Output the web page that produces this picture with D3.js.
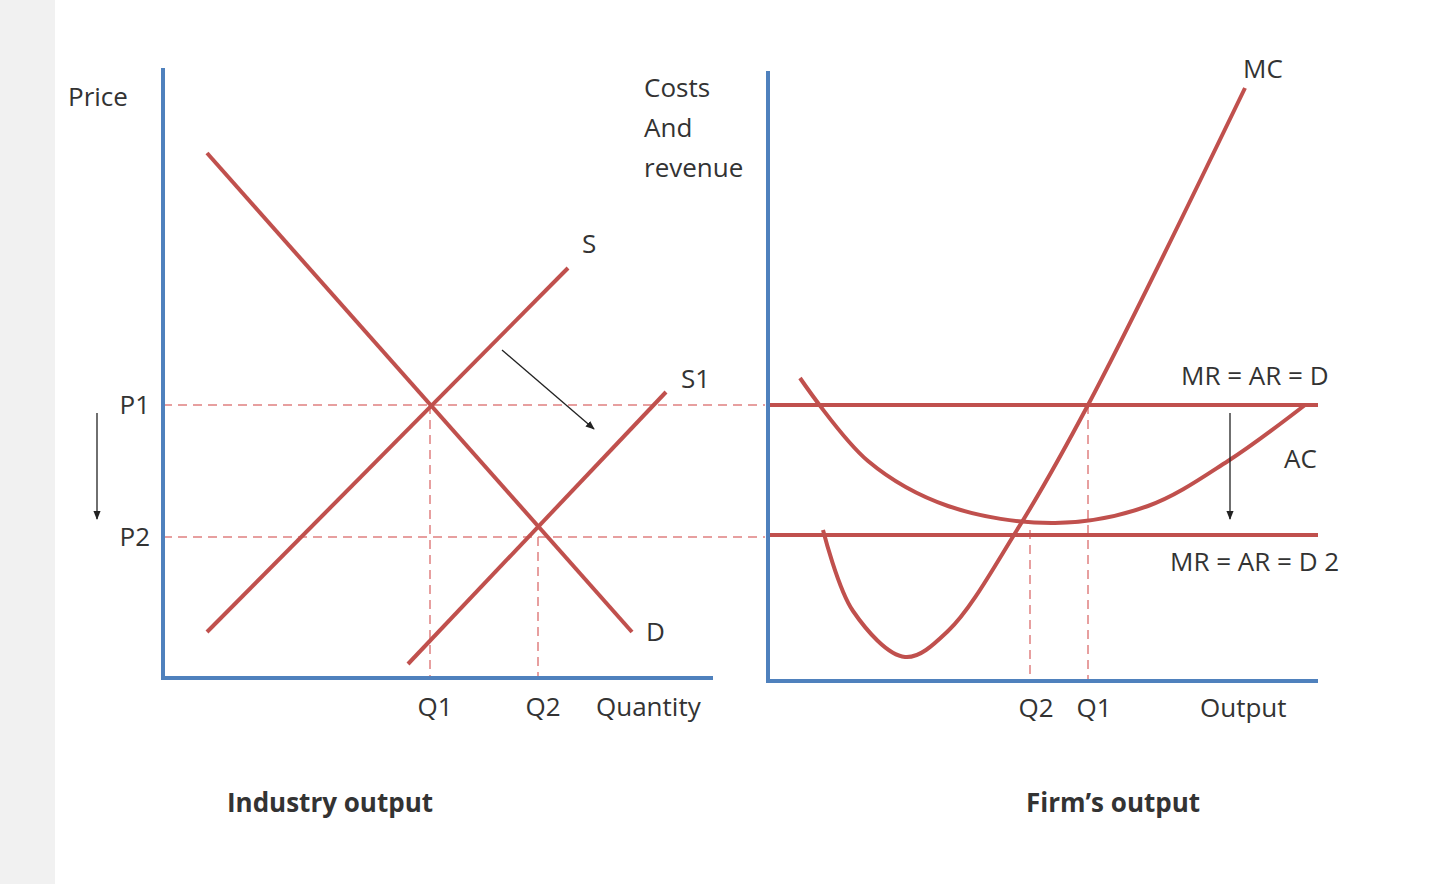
<!DOCTYPE html>
<html><head><meta charset="utf-8">
<script src="https://cdn.jsdelivr.net/npm/d3@7"></script>
<style>body{margin:0;background:#fff}text{font-family:"Open Sans",Calibri,sans-serif;fill:#333}</style>
</head><body><svg id="c" width="1440" height="884"></svg>
<script>
// industry (left) panel, units: quantity 0-550, price 0-610
const demand = [[44, 525], [469, 46]];
const supply = [[44, 46], [405, 410]];
const supply1 = [[245, 14], [503, 286]];
const pLevels = [{name: 'P1', v: 273}, {name: 'P2', v: 141}];
const qLeft = [{name: 'Q1', v: 267, p: 273}, {name: 'Q2', v: 375, p: 141}];
// firm (right) panel
const mrLevels = [276, 146];
const qRight = [{name: 'Q2', v: 262, p: 151}, {name: 'Q1', v: 320, p: 276}];
const mc = [[55, 151], [85, 70], [137, 24], [180, 50], [249, 151], [320, 276], [477, 593]];
const ac = [[32, 303], [100, 220], [180, 175], [287, 158], [380, 175], [460, 220], [537, 276]];

const red = '#c0504d', blue = '#4f81bd';
const svg = d3.select('#c');
svg.append('rect').attr('width', 55).attr('height', 884).attr('fill', '#f1f1f1');

const xL = d3.scaleLinear().domain([0, 550]).range([163, 713]);
const yL = d3.scaleLinear().domain([0, 610]).range([678, 68]);
const xR = d3.scaleLinear().domain([0, 550]).range([768, 1318]);
const yR = d3.scaleLinear().domain([0, 610]).range([681, 71]);

function line(x, y, pts, curve) {
  return d3.line().x(d => x(d[0])).y(d => y(d[1])).curve(curve || d3.curveLinear)(pts);
}
const dash = '9,6';

// dashed guides
pLevels.forEach(p => svg.append('line').attr('x1', xL(0)).attr('x2', 765)
  .attr('y1', yL(p.v)).attr('y2', yL(p.v)).attr('stroke', '#e08080').attr('stroke-width', 1.5).attr('stroke-dasharray', dash));
qLeft.forEach(q => svg.append('line').attr('x1', xL(q.v)).attr('x2', xL(q.v))
  .attr('y1', yL(q.p)).attr('y2', yL(0)).attr('stroke', '#e08080').attr('stroke-width', 1.5).attr('stroke-dasharray', dash));
qRight.forEach(q => svg.append('line').attr('x1', xR(q.v)).attr('x2', xR(q.v))
  .attr('y1', yR(q.p)).attr('y2', yR(0)).attr('stroke', '#e08080').attr('stroke-width', 1.5).attr('stroke-dasharray', dash));

// curves
[demand, supply, supply1].forEach(p => svg.append('path').attr('d', line(xL, yL, p))
  .attr('fill', 'none').attr('stroke', red).attr('stroke-width', 4));
mrLevels.forEach(v => svg.append('line').attr('x1', xR(0)).attr('x2', xR(550))
  .attr('y1', yR(v)).attr('y2', yR(v)).attr('stroke', red).attr('stroke-width', 4));
[mc, ac].forEach(p => svg.append('path').attr('d', line(xR, yR, p, d3.curveCatmullRom))
  .attr('fill', 'none').attr('stroke', red).attr('stroke-width', 4));

// axes
[[xL, yL], [xR, yR]].forEach(([x, y]) => {
  svg.append('path').attr('d', `M${x(0)},${y(610)}V${y(0)}H${x(550)}`)
    .attr('fill', 'none').attr('stroke', blue).attr('stroke-width', 4);
});

// arrows
svg.append('defs').append('marker').attr('id', 'ah').attr('viewBox', '0 0 10 10')
  .attr('refX', 9).attr('refY', 5).attr('markerWidth', 7).attr('markerHeight', 7).attr('orient', 'auto')
  .append('path').attr('d', 'M0,1L10,5L0,9z').attr('fill', '#222');
function arrow(x1, y1, x2, y2) {
  svg.append('line').attr('x1', x1).attr('y1', y1).attr('x2', x2).attr('y2', y2)
    .attr('stroke', '#222').attr('stroke-width', 1.3).attr('marker-end', 'url(#ah)');
}
arrow(502, 350, 594, 429);
arrow(97, 413, 97, 519);
arrow(1230, 413, 1230, 519);

// labels
function txt(s, x, y, opt) {
  opt = opt || {};
  svg.append('text').attr('x', x).attr('y', y).attr('text-anchor', opt.a || 'start')
    .attr('font-size', opt.fs || 26).attr('font-weight', opt.b ? 'bold' : 'normal').text(s);
}
txt('Price', 68, 106);
pLevels.forEach(p => txt(p.name, 150, yL(p.v) + 9, {a: 'end'}));
txt('S', 582, 253); txt('S1', 681, 388); txt('D', 646, 641);
qLeft.forEach(q => txt(q.name, xL(q.v) + 5, 716, {a: 'middle'}));
txt('Quantity', 596, 716);
txt('Industry output', 330, 812, {a: 'middle', b: true});
['Costs', 'And', 'revenue'].forEach((s, i) => txt(s, 644, 97 + i * 40));
txt('MC', 1243, 78);
txt('MR = AR = D', 1181, 385);
txt('AC', 1284, 468);
txt('MR =  AR = D 2', 1170, 571);
qRight.forEach(q => txt(q.name, xR(q.v) + 6, 717, {a: 'middle'}));
txt('Output', 1200, 717);
txt('Firm\u2019s output', 1113, 812, {a: 'middle', b: true});
</script></body></html>
